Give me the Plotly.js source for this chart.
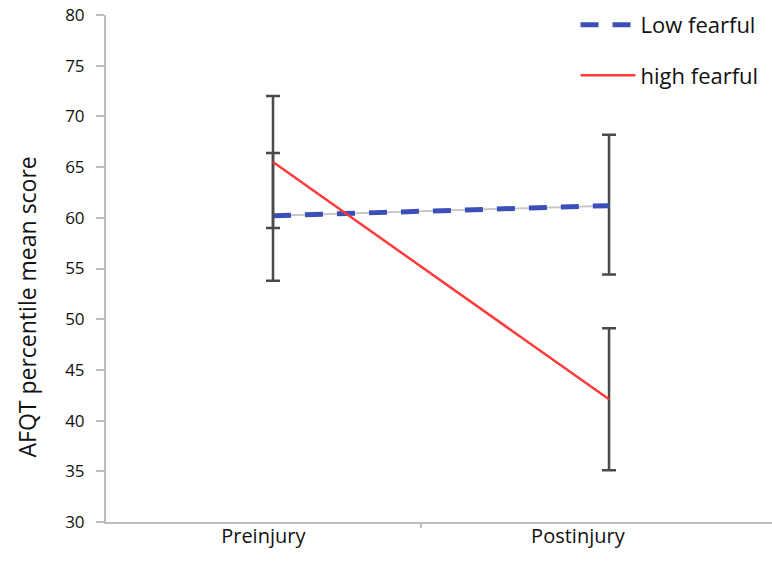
<!DOCTYPE html>
<html>
<head>
<meta charset="utf-8">
<script src="https://cdn.plot.ly/plotly-3.0.1.min.js"></script>
<style>html,body{margin:0;padding:0;background:#fff;}#chart{width:772px;height:576px;}</style>
</head>
<body>
<div id="chart"></div>
<script>
const phaseLabels = ['Preinjury', 'Postinjury'];
const phaseIndex = [0, 1];
const lowFearful = [60.2, 61.2];
const lowErrPlus = [6.2, 7.0];
const lowErrMinus = [6.4, 6.8];
const highFearful = [65.5, 42.1];
const highErrPlus = [6.5, 7.0];
const highErrMinus = [6.5, 7.0];
const yTicks = [30, 35, 40, 45, 50, 55, 60, 65, 70, 75, 80];

const FONT = '"Open Sans", Lato, sans-serif';
const errStyle = {color: '#4a4a4a', thickness: 2.5, width: 7};

const traces = [
  {
    x: phaseIndex, y: lowFearful, type: 'scatter', mode: 'lines',
    line: {color: '#c8c8c8', width: 2}, showlegend: false, hoverinfo: 'skip',
    error_y: Object.assign({type: 'data', symmetric: false, array: lowErrPlus, arrayminus: lowErrMinus}, errStyle)
  },
  {
    x: phaseIndex, y: lowFearful, type: 'scatter', mode: 'lines', name: 'Low fearful',
    line: {color: '#3b4fb8', width: 5, dash: '18px,14px'}, legendgroup: 'a'
  },
  {
    x: phaseIndex, y: highFearful, type: 'scatter', mode: 'lines', name: 'high fearful',
    line: {color: '#ff3b3b', width: 2.5}, legendgroup: 'b',
    error_y: Object.assign({type: 'data', symmetric: false, array: highErrPlus, arrayminus: highErrMinus}, errStyle)
  }
];

const layout = {
  width: 772, height: 576,
  margin: {l: 106, r: 0, t: 14.5, b: 54.3, pad: 0},
  paper_bgcolor: '#fff', plot_bgcolor: '#fff',
  font: {family: FONT, color: '#222'},
  showlegend: true,
  legend: {
    x: 0.705, y: 1.022, xanchor: 'left', yanchor: 'top',
    font: {family: FONT, size: 22, color: '#111'},
    traceorder: 'grouped', tracegroupgap: 19, itemwidth: 55,
    bgcolor: 'rgba(0,0,0,0)'
  },
  xaxis: {
    type: 'linear', range: [-0.497, 1.485],
    showgrid: false, zeroline: false, showline: true, linecolor: '#bdbdbd', linewidth: 2,
    showticklabels: false, ticks: ''
  },
  xaxis2: {
    overlaying: 'x', type: 'linear', range: [-0.5, 1.617],
    showgrid: false, zeroline: false, showline: false,
    tickvals: phaseIndex, ticktext: phaseLabels, ticks: '',
    tickfont: {family: FONT, size: 20, color: '#111'},
    minor: {tickvals: [0.5], ticks: 'outside', ticklen: 5, tickcolor: '#bdbdbd', tickwidth: 2, showgrid: false},
    side: 'bottom'
  },
  yaxis: {
    range: [30, 80], tickvals: yTicks,
    showgrid: false, zeroline: false, showline: true, linecolor: '#bdbdbd', linewidth: 2,
    ticks: 'outside', ticklen: 8, tickcolor: '#bdbdbd', tickwidth: 2,
    tickfont: {family: FONT, size: 17, color: '#111'},
    ticklabelstandoff: 8
  },
  annotations: [{
    text: 'AFQT percentile mean score', textangle: -90,
    xref: 'paper', yref: 'paper', x: 0, xshift: -80, y: 0.5, yshift: -39,
    xanchor: 'center', yanchor: 'middle', showarrow: false,
    font: {family: FONT, size: 23, color: '#111'}
  }]
};

// helper trace to activate xaxis2 for the category labels
traces.push({x: phaseIndex, y: [null, null], xaxis: 'x2', yaxis: 'y', type: 'scatter', mode: 'lines', showlegend: false, hoverinfo: 'skip'});

Plotly.newPlot('chart', traces, layout, {displayModeBar: false, staticPlot: true});
</script>
</body>
</html>
